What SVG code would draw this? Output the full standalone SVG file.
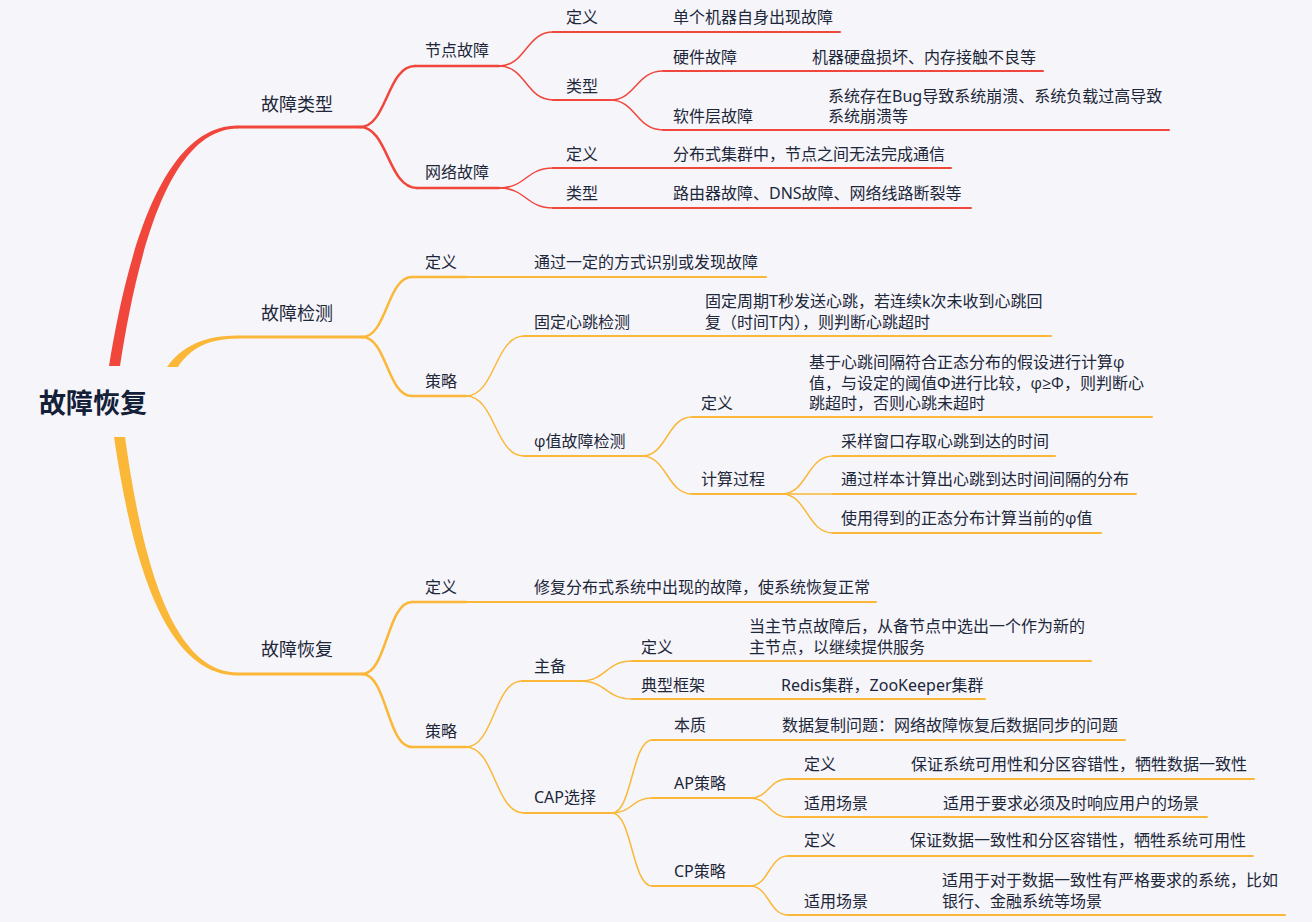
<svg xmlns="http://www.w3.org/2000/svg" width="1312" height="922" viewBox="0 0 1312 922">
<style>
text{font-family:'Noto Sans','Noto Sans CJK SC',sans-serif;fill:#1d2739;dominant-baseline:central;font-size:16px}
.t1{font-size:18px;text-anchor:middle}
.root{font-size:27px;font-weight:bold;text-anchor:middle;fill:#142038}
.g{font-family:'Open Sans','DejaVu Sans',sans-serif}
path{fill:none;stroke-linecap:round}
.r{stroke:#f1463c}
.o{stroke:#fbb838}
.fr{fill:#f1463c;stroke:none}
.fo{fill:#fbb838;stroke:none}
.w3{stroke-width:3}
.w25{stroke-width:2.5}
.w2{stroke-width:2}
.w15{stroke-width:1.5}
</style>
<rect width="1312" height="922" fill="#f5f5fa"/>
<g id="connectors">
<path class="fr" d="M109 366 C125 268 158 125.5 238 125.5 L238 128.5 C165 128.5 135 270 120 366 Z"/>
<path class="fo" d="M167 367 C178 352 196 335.5 238 335.5 L238 338.5 C203 338.5 187 353 178 367 Z"/>
<path class="fo" d="M114 437 C130 545 160 675.5 238 675.5 L238 672.5 C168 672.5 140 545 125 437 Z"/>
<path class="r w25" d="M360 127 C387 127 387 66 415 66"/>
<path class="r w25" d="M360 127 C388 127 388 188 417 188"/>
<path class="r w15" d="M499 66 C526 66 526 32 553 32"/>
<path class="r w15" d="M499 66 C526 66 526 100 553 100"/>
<path class="r w15" d="M499 188 C526 188 526 168 553 168"/>
<path class="r w15" d="M499 188 C526 188 526 208 553 208"/>
<path class="r w15" d="M610 100 C636 100 636 71 663 71"/>
<path class="r w15" d="M610 100 C636 100 636 130 663 130"/>
<path class="o w25" d="M362 337 C387 337 387 277 412 277"/>
<path class="o w25" d="M362 337 C387 337 387 396 412 396"/>
<path class="o w15" d="M466 396 C495 396 495 336 524 336"/>
<path class="o w15" d="M466 396 C495 396 495 456 524 456"/>
<path class="o w15" d="M642 456 C667 456 667 417 692 417"/>
<path class="o w15" d="M642 456 C667 456 667 494 692 494"/>
<path class="o w15" d="M782 494 C807 494 807 456 833 456"/>
<path class="o w15" d="M782 494 H833"/>
<path class="o w15" d="M782 494 C807 494 807 533 833 533"/>
<path class="o w25" d="M362 674 C387 674 387 602 412 602"/>
<path class="o w25" d="M362 674 C387 674 387 747 412 747"/>
<path class="o w15" d="M466 747 C494 747 494 681 522 681"/>
<path class="o w15" d="M466 747 C495 747 495 813 524 813"/>
<path class="o w15" d="M581 681 C606 681 606 661 632 661"/>
<path class="o w15" d="M581 681 C606 681 606 699 632 699"/>
<path class="o w15" d="M612 813 C632 813 632 740 652 740"/>
<path class="o w15" d="M612 813 C632 813 632 798 652 798"/>
<path class="o w15" d="M612 813 C632 813 632 886 652 886"/>
<path class="o w15" d="M750 798 C769 798 769 779 788 779"/>
<path class="o w15" d="M750 798 C769 798 769 817 788 817"/>
<path class="o w15" d="M750 886 C769 886 769 856 788 856"/>
<path class="o w15" d="M750 886 C769 886 769 915 788 915"/>
</g>
<g id="root"><text class="root" x="93" y="402">故障恢复</text></g>

<g id="n-type"><path class="r w3" d="M238 127 H360"/><text class="t1" x="297" y="104">故障类型</text></g>
<g id="n-node"><path class="r w25" d="M415 66 H499"/><text x="425" y="50">节点故障</text></g>
<g id="n-net"><path class="r w25" d="M417 188 H499"/><text x="425" y="172">网络故障</text></g>
<g id="n-node-def"><path class="r w2" d="M553 32 H840"/><text x="566" y="17">定义</text><text x="673" y="17">单个机器自身出现故障</text></g>
<g id="n-node-type"><path class="r w2" d="M553 100 H610"/><text x="566" y="86">类型</text></g>
<g id="n-hw"><path class="r w2" d="M663 71 H1043"/><text x="673" y="57">硬件故障</text><text x="812" y="57">机器硬盘损坏、内存接触不良等</text></g>
<g id="n-sw"><path class="r w2" d="M663 130 H1169"/><text x="673" y="116">软件层故障</text><text x="828" y="96">系统存在Bug导致系统崩溃、系统负载过高导致<tspan x="828" dy="20">系统崩溃等</tspan></text></g>
<g id="n-net-def"><path class="r w2" d="M553 168 H951"/><text x="566" y="154">定义</text><text x="673" y="154">分布式集群中，节点之间无法完成通信</text></g>
<g id="n-net-type"><path class="r w2" d="M553 208 H971"/><text x="566" y="193">类型</text><text x="673" y="193">路由器故障、DNS故障、网络线路断裂等</text></g>

<g id="n-detect"><path class="o w3" d="M238 337 H362"/><text class="t1" x="297" y="313">故障检测</text></g>
<g id="n-detect-def"><path class="o w25" d="M412 277 H466"/><path class="o w2" d="M466 277 H766"/><text x="425" y="262">定义</text><text x="534" y="262">通过一定的方式识别或发现故障</text></g>
<g id="n-detect-strat"><path class="o w25" d="M412 396 H466"/><text x="425" y="381">策略</text></g>
<g id="n-fixed"><path class="o w2" d="M524 336 H1051"/><text x="534" y="322">固定心跳检测</text><text x="705" y="301">固定周期T秒发送心跳，若连续k次未收到心跳回<tspan x="705" dy="21">复（时间T内），则判断心跳超时</tspan></text></g>
<g id="n-phi"><path class="o w2" d="M524 456 H642"/><text x="534" y="441"><tspan class="g">φ</tspan>值故障检测</text></g>
<g id="n-phi-def"><path class="o w2" d="M692 417 H1152"/><text x="701" y="403">定义</text><text x="809" y="362">基于心跳间隔符合正态分布的假设进行计算<tspan class="g">φ</tspan><tspan x="809" dy="20.5">值，与设定的阈值Φ进行比较，<tspan class="g">φ≥Φ</tspan>，则判断心</tspan><tspan x="809" dy="20.5">跳超时，否则心跳未超时</tspan></text></g>
<g id="n-calc"><path class="o w2" d="M692 494 H782"/><text x="701" y="479">计算过程</text></g>
<g id="n-calc1"><path class="o w2" d="M833 456 H1055"/><text x="841" y="441">采样窗口存取心跳到达的时间</text></g>
<g id="n-calc2"><path class="o w2" d="M833 494 H1136"/><text x="841" y="479">通过样本计算出心跳到达时间间隔的分布</text></g>
<g id="n-calc3"><path class="o w2" d="M833 533 H1101"/><text x="841" y="518">使用得到的正态分布计算当前的<tspan class="g">φ</tspan>值</text></g>

<g id="n-recover"><path class="o w3" d="M238 674 H362"/><text class="t1" x="297" y="649">故障恢复</text></g>
<g id="n-rec-def"><path class="o w25" d="M412 602 H466"/><path class="o w2" d="M466 602 H876"/><text x="425" y="587">定义</text><text x="534" y="587">修复分布式系统中出现的故障，使系统恢复正常</text></g>
<g id="n-rec-strat"><path class="o w25" d="M412 747 H466"/><text x="425" y="731">策略</text></g>
<g id="n-ms"><path class="o w2" d="M522 681 H581"/><text x="534" y="666">主备</text></g>
<g id="n-ms-def"><path class="o w2" d="M632 661 H1091"/><text x="641" y="647">定义</text><text x="749" y="626">当主节点故障后，从备节点中选出一个作为新的<tspan x="749" dy="21">主节点，以继续提供服务</tspan></text></g>
<g id="n-ms-fw"><path class="o w2" d="M632 699 H985"/><text x="641" y="685">典型框架</text><text x="781" y="685">Redis集群，ZooKeeper集群</text></g>
<g id="n-cap"><path class="o w2" d="M524 813 H612"/><text x="534" y="797">CAP选择</text></g>
<g id="n-essence"><path class="o w2" d="M652 740 H1125"/><text x="674" y="725">本质</text><text x="782" y="725">数据复制问题：网络故障恢复后数据同步的问题</text></g>
<g id="n-ap"><path class="o w2" d="M652 798 H750"/><text x="674" y="783">AP策略</text></g>
<g id="n-ap-def"><path class="o w2" d="M788 779 H1254"/><text x="804" y="764">定义</text><text x="911" y="764">保证系统可用性和分区容错性，牺牲数据一致性</text></g>
<g id="n-ap-use"><path class="o w2" d="M788 817 H1207"/><text x="804" y="803">适用场景</text><text x="943" y="803">适用于要求必须及时响应用户的场景</text></g>
<g id="n-cp"><path class="o w2" d="M652 886 H750"/><text x="674" y="871">CP策略</text></g>
<g id="n-cp-def"><path class="o w2" d="M788 856 H1253"/><text x="804" y="840">定义</text><text x="910" y="840">保证数据一致性和分区容错性，牺牲系统可用性</text></g>
<g id="n-cp-use"><path class="o w2" d="M788 915 H1285"/><text x="804" y="901">适用场景</text><text x="942" y="880">适用于对于数据一致性有严格要求的系统，比如<tspan x="942" dy="21">银行、金融系统等场景</tspan></text></g>
</svg>
